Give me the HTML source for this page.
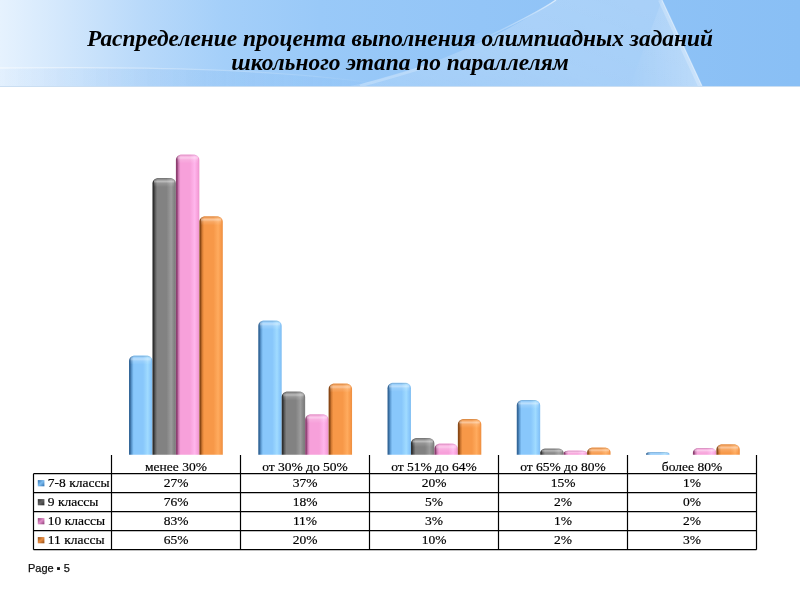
<!DOCTYPE html>
<html><head><meta charset="utf-8"><title>Slide</title>
<style>
html,body{margin:0;padding:0;background:#fff;}
body{width:800px;height:600px;position:relative;overflow:hidden;}
#hdr{position:absolute;left:0;top:0;width:800px;height:86px;overflow:hidden;
background:linear-gradient(90deg,#e6f2fe 0%,#d2e7fc 8%,#b8d9fa 18%,#a4cff9 28%,#99c9f8 40%,#93c5f7 60%,#8ec2f6 80%,#89bff5 100%);}
#title{position:absolute;left:0;width:800px;top:0;text-align:center;font:italic 700 23.4px/26px "Liberation Serif",serif;color:#000;}
#title div{position:absolute;left:0;width:800px;text-align:center;white-space:nowrap;}
#footer{position:absolute;left:27.8px;top:562px;font:11px "Liberation Sans",sans-serif;color:#111;-webkit-text-stroke:0.25px #111;white-space:nowrap;}
svg text{font-family:"Liberation Serif",serif;font-size:13.5px;fill:#000;stroke:#000;stroke-width:0.2px;}
svg,#title,#footer{will-change:transform;}
</style></head><body>
<div id="hdr">
<svg width="800" height="86" style="position:absolute;left:0;top:0">
<defs>
<linearGradient id="fan" x1="0" y1="1" x2="1" y2="0.3"><stop offset="0" stop-color="#fff" stop-opacity=".12"/><stop offset=".5" stop-color="#fff" stop-opacity=".22"/><stop offset="1" stop-color="#fff" stop-opacity=".24"/></linearGradient>
<linearGradient id="sw1" x1="0" y1="0" x2="1" y2="0"><stop offset="0" stop-color="#fff" stop-opacity=".5"/><stop offset=".5" stop-color="#fff" stop-opacity=".25"/><stop offset="1" stop-color="#fff" stop-opacity="0"/></linearGradient>
<linearGradient id="cv" x1="0" y1="1" x2="1" y2="0"><stop offset="0" stop-color="#fff" stop-opacity="0"/><stop offset="1" stop-color="#fff" stop-opacity=".6"/></linearGradient>
<linearGradient id="dg" x1="0" y1="0" x2="1" y2="0"><stop offset="0" stop-color="#fff" stop-opacity="0"/><stop offset="1" stop-color="#fff" stop-opacity=".25"/></linearGradient>
<linearGradient id="lowb" x1="0" y1="0" x2="1" y2="0"><stop offset="0" stop-color="#5a9de8" stop-opacity=".02"/><stop offset=".5" stop-color="#5a9de8" stop-opacity=".08"/><stop offset="1" stop-color="#5a9de8" stop-opacity="0"/></linearGradient>
</defs>
<path d="M0,68.5 C150,67 280,69 395,86 L0,86 Z" fill="url(#lowb)"/>
<path d="M350,86 C420,72 500,38 556,0 L662,0 L702,86 Z" fill="url(#fan)"/>
<path d="M630,86 L662,0 L702,86 Z" fill="url(#dg)"/>
<path d="M462,49 C490,35 530,18 556,0" stroke="url(#cv)" stroke-width="1.4" fill="none"/>
<path d="M360,86 C380,80 410,72 440,62" stroke="#fff" stroke-opacity=".22" stroke-width="3" fill="none"/>
<path d="M660,0 L700,86" stroke="#fff" stroke-opacity=".22" stroke-width="4"/><path d="M662,0 L702,86" stroke="#fff" stroke-opacity=".4" stroke-width="1.2"/>
<path d="M0,68 C150,66.5 280,68.5 395,86" stroke="url(#sw1)" stroke-width="1.3" fill="none"/>
</svg>
<div id="title"><div style="top:25.3px">Распределение процента выполнения олимпиадных заданий</div><div style="top:48.7px">школьного этапа по параллелям</div></div>
</div>
<div style="position:absolute;left:0;top:86px;width:800px;height:1px;background:rgba(150,190,230,.5)"></div>
<svg width="800" height="600" style="position:absolute;left:0;top:0">
<defs>
<linearGradient id="hb" x1="0" y1="0" x2="1" y2="0"><stop offset="0" stop-color="#35689a"/><stop offset=".05" stop-color="#35689a"/><stop offset=".12" stop-color="#5f9dd4"/><stop offset=".2" stop-color="#88c7fb"/><stop offset=".6" stop-color="#88c7fb"/><stop offset=".8" stop-color="#a0dbff"/><stop offset=".93" stop-color="#88c7fb"/><stop offset="1" stop-color="#80bdf0"/></linearGradient>
<linearGradient id="hg" x1="0" y1="0" x2="1" y2="0"><stop offset="0" stop-color="#303030"/><stop offset=".05" stop-color="#303030"/><stop offset=".12" stop-color="#5e5e5e"/><stop offset=".2" stop-color="#828282"/><stop offset=".6" stop-color="#828282"/><stop offset=".8" stop-color="#9c9c9c"/><stop offset=".93" stop-color="#828282"/><stop offset="1" stop-color="#7a7a7a"/></linearGradient>
<linearGradient id="hp" x1="0" y1="0" x2="1" y2="0"><stop offset="0" stop-color="#8c3e70"/><stop offset=".05" stop-color="#8c3e70"/><stop offset=".12" stop-color="#d27cb6"/><stop offset=".2" stop-color="#f7a0da"/><stop offset=".6" stop-color="#f7a0da"/><stop offset=".8" stop-color="#ffb6ec"/><stop offset=".93" stop-color="#f7a0da"/><stop offset="1" stop-color="#eb94cc"/></linearGradient>
<linearGradient id="ho" x1="0" y1="0" x2="1" y2="0"><stop offset="0" stop-color="#8a4815"/><stop offset=".05" stop-color="#8a4815"/><stop offset=".12" stop-color="#d27a32"/><stop offset=".2" stop-color="#f79848"/><stop offset=".6" stop-color="#f79848"/><stop offset=".8" stop-color="#ffab5e"/><stop offset=".93" stop-color="#f79848"/><stop offset="1" stop-color="#ec8e40"/></linearGradient>
<linearGradient id="tv" x1="0" y1="0" x2="0" y2="1"><stop offset="0" stop-color="#fff" stop-opacity=".0"/><stop offset=".18" stop-color="#fff" stop-opacity=".15"/><stop offset=".38" stop-color="#fff" stop-opacity=".45"/><stop offset=".6" stop-color="#fff" stop-opacity=".15"/><stop offset="1" stop-color="#fff" stop-opacity="0"/></linearGradient>
<linearGradient id="lb" x1="0" y1="0" x2="1" y2="1"><stop offset="0" stop-color="#2f6fae"/><stop offset=".5" stop-color="#7cbcf0"/><stop offset="1" stop-color="#2f6fae"/></linearGradient>
<linearGradient id="lg" x1="0" y1="0" x2="1" y2="1"><stop offset="0" stop-color="#2a2a2a"/><stop offset=".5" stop-color="#606060"/><stop offset="1" stop-color="#2a2a2a"/></linearGradient>
<linearGradient id="lp" x1="0" y1="0" x2="1" y2="1"><stop offset="0" stop-color="#8a3c74"/><stop offset=".5" stop-color="#e08cc8"/><stop offset="1" stop-color="#8a3c74"/></linearGradient>
<linearGradient id="lo" x1="0" y1="0" x2="1" y2="1"><stop offset="0" stop-color="#8c4a14"/><stop offset=".5" stop-color="#e88c40"/><stop offset="1" stop-color="#8c4a14"/></linearGradient>
</defs>
<g><clipPath id="c00"><path d="M129.00,454.70 L129.00,361.10 C129.00,358.06 131.69,355.60 135.00,355.60 L146.45,355.60 C149.76,355.60 152.45,358.06 152.45,361.10 L152.45,454.70 Z"/></clipPath>
<path d="M129.00,454.70 L129.00,361.10 C129.00,358.06 131.69,355.60 135.00,355.60 L146.45,355.60 C149.76,355.60 152.45,358.06 152.45,361.10 L152.45,454.70 Z" fill="url(#hb)"/>
<rect x="130.50" y="355.60" width="20.45" height="9.00" fill="url(#tv)" clip-path="url(#c00)"/>
<rect x="129.00" y="355.60" width="23.45" height="1.2" fill="#000" fill-opacity=".10" clip-path="url(#c00)"/>
<clipPath id="c01"><path d="M152.45,454.70 L152.45,183.50 C152.45,180.46 155.14,178.00 158.45,178.00 L169.90,178.00 C173.21,178.00 175.90,180.46 175.90,183.50 L175.90,454.70 Z"/></clipPath>
<path d="M152.45,454.70 L152.45,183.50 C152.45,180.46 155.14,178.00 158.45,178.00 L169.90,178.00 C173.21,178.00 175.90,180.46 175.90,183.50 L175.90,454.70 Z" fill="url(#hg)"/>
<rect x="153.95" y="178.00" width="20.45" height="9.00" fill="url(#tv)" clip-path="url(#c01)"/>
<rect x="152.45" y="178.00" width="23.45" height="1.2" fill="#000" fill-opacity=".10" clip-path="url(#c01)"/>
<clipPath id="c02"><path d="M175.90,454.70 L175.90,159.90 C175.90,156.86 178.59,154.40 181.90,154.40 L193.35,154.40 C196.66,154.40 199.35,156.86 199.35,159.90 L199.35,454.70 Z"/></clipPath>
<path d="M175.90,454.70 L175.90,159.90 C175.90,156.86 178.59,154.40 181.90,154.40 L193.35,154.40 C196.66,154.40 199.35,156.86 199.35,159.90 L199.35,454.70 Z" fill="url(#hp)"/>
<rect x="177.40" y="154.40" width="20.45" height="9.00" fill="url(#tv)" clip-path="url(#c02)"/>
<rect x="175.90" y="154.40" width="23.45" height="1.2" fill="#000" fill-opacity=".10" clip-path="url(#c02)"/>
<clipPath id="c03"><path d="M199.35,454.70 L199.35,221.80 C199.35,218.76 202.04,216.30 205.35,216.30 L216.80,216.30 C220.11,216.30 222.80,218.76 222.80,221.80 L222.80,454.70 Z"/></clipPath>
<path d="M199.35,454.70 L199.35,221.80 C199.35,218.76 202.04,216.30 205.35,216.30 L216.80,216.30 C220.11,216.30 222.80,218.76 222.80,221.80 L222.80,454.70 Z" fill="url(#ho)"/>
<rect x="200.85" y="216.30" width="20.45" height="9.00" fill="url(#tv)" clip-path="url(#c03)"/>
<rect x="199.35" y="216.30" width="23.45" height="1.2" fill="#000" fill-opacity=".10" clip-path="url(#c03)"/>
<clipPath id="c10"><path d="M258.25,454.70 L258.25,326.00 C258.25,322.96 260.94,320.50 264.25,320.50 L275.70,320.50 C279.01,320.50 281.70,322.96 281.70,326.00 L281.70,454.70 Z"/></clipPath>
<path d="M258.25,454.70 L258.25,326.00 C258.25,322.96 260.94,320.50 264.25,320.50 L275.70,320.50 C279.01,320.50 281.70,322.96 281.70,326.00 L281.70,454.70 Z" fill="url(#hb)"/>
<rect x="259.75" y="320.50" width="20.45" height="9.00" fill="url(#tv)" clip-path="url(#c10)"/>
<rect x="258.25" y="320.50" width="23.45" height="1.2" fill="#000" fill-opacity=".10" clip-path="url(#c10)"/>
<clipPath id="c11"><path d="M281.70,454.70 L281.70,397.00 C281.70,393.96 284.39,391.50 287.70,391.50 L299.15,391.50 C302.46,391.50 305.15,393.96 305.15,397.00 L305.15,454.70 Z"/></clipPath>
<path d="M281.70,454.70 L281.70,397.00 C281.70,393.96 284.39,391.50 287.70,391.50 L299.15,391.50 C302.46,391.50 305.15,393.96 305.15,397.00 L305.15,454.70 Z" fill="url(#hg)"/>
<rect x="283.20" y="391.50" width="20.45" height="9.00" fill="url(#tv)" clip-path="url(#c11)"/>
<rect x="281.70" y="391.50" width="23.45" height="1.2" fill="#000" fill-opacity=".10" clip-path="url(#c11)"/>
<clipPath id="c12"><path d="M305.15,454.70 L305.15,419.75 C305.15,416.71 307.84,414.25 311.15,414.25 L322.60,414.25 C325.91,414.25 328.60,416.71 328.60,419.75 L328.60,454.70 Z"/></clipPath>
<path d="M305.15,454.70 L305.15,419.75 C305.15,416.71 307.84,414.25 311.15,414.25 L322.60,414.25 C325.91,414.25 328.60,416.71 328.60,419.75 L328.60,454.70 Z" fill="url(#hp)"/>
<rect x="306.65" y="414.25" width="20.45" height="9.00" fill="url(#tv)" clip-path="url(#c12)"/>
<rect x="305.15" y="414.25" width="23.45" height="1.2" fill="#000" fill-opacity=".10" clip-path="url(#c12)"/>
<clipPath id="c13"><path d="M328.60,454.70 L328.60,389.00 C328.60,385.96 331.29,383.50 334.60,383.50 L346.05,383.50 C349.36,383.50 352.05,385.96 352.05,389.00 L352.05,454.70 Z"/></clipPath>
<path d="M328.60,454.70 L328.60,389.00 C328.60,385.96 331.29,383.50 334.60,383.50 L346.05,383.50 C349.36,383.50 352.05,385.96 352.05,389.00 L352.05,454.70 Z" fill="url(#ho)"/>
<rect x="330.10" y="383.50" width="20.45" height="9.00" fill="url(#tv)" clip-path="url(#c13)"/>
<rect x="328.60" y="383.50" width="23.45" height="1.2" fill="#000" fill-opacity=".10" clip-path="url(#c13)"/>
<clipPath id="c20"><path d="M387.50,454.70 L387.50,388.25 C387.50,385.21 390.19,382.75 393.50,382.75 L404.95,382.75 C408.26,382.75 410.95,385.21 410.95,388.25 L410.95,454.70 Z"/></clipPath>
<path d="M387.50,454.70 L387.50,388.25 C387.50,385.21 390.19,382.75 393.50,382.75 L404.95,382.75 C408.26,382.75 410.95,385.21 410.95,388.25 L410.95,454.70 Z" fill="url(#hb)"/>
<rect x="389.00" y="382.75" width="20.45" height="9.00" fill="url(#tv)" clip-path="url(#c20)"/>
<rect x="387.50" y="382.75" width="23.45" height="1.2" fill="#000" fill-opacity=".10" clip-path="url(#c20)"/>
<clipPath id="c21"><path d="M410.95,454.70 L410.95,443.50 C410.95,440.46 413.64,438.00 416.95,438.00 L428.40,438.00 C431.71,438.00 434.40,440.46 434.40,443.50 L434.40,454.70 Z"/></clipPath>
<path d="M410.95,454.70 L410.95,443.50 C410.95,440.46 413.64,438.00 416.95,438.00 L428.40,438.00 C431.71,438.00 434.40,440.46 434.40,443.50 L434.40,454.70 Z" fill="url(#hg)"/>
<rect x="412.45" y="438.00" width="20.45" height="9.00" fill="url(#tv)" clip-path="url(#c21)"/>
<rect x="410.95" y="438.00" width="23.45" height="1.2" fill="#000" fill-opacity=".10" clip-path="url(#c21)"/>
<clipPath id="c22"><path d="M434.40,454.70 L434.40,449.00 C434.40,445.96 437.09,443.50 440.40,443.50 L451.85,443.50 C455.16,443.50 457.85,445.96 457.85,449.00 L457.85,454.70 Z"/></clipPath>
<path d="M434.40,454.70 L434.40,449.00 C434.40,445.96 437.09,443.50 440.40,443.50 L451.85,443.50 C455.16,443.50 457.85,445.96 457.85,449.00 L457.85,454.70 Z" fill="url(#hp)"/>
<rect x="435.90" y="443.50" width="20.45" height="9.00" fill="url(#tv)" clip-path="url(#c22)"/>
<rect x="434.40" y="443.50" width="23.45" height="1.2" fill="#000" fill-opacity=".10" clip-path="url(#c22)"/>
<clipPath id="c23"><path d="M457.85,454.70 L457.85,424.50 C457.85,421.46 460.54,419.00 463.85,419.00 L475.30,419.00 C478.61,419.00 481.30,421.46 481.30,424.50 L481.30,454.70 Z"/></clipPath>
<path d="M457.85,454.70 L457.85,424.50 C457.85,421.46 460.54,419.00 463.85,419.00 L475.30,419.00 C478.61,419.00 481.30,421.46 481.30,424.50 L481.30,454.70 Z" fill="url(#ho)"/>
<rect x="459.35" y="419.00" width="20.45" height="9.00" fill="url(#tv)" clip-path="url(#c23)"/>
<rect x="457.85" y="419.00" width="23.45" height="1.2" fill="#000" fill-opacity=".10" clip-path="url(#c23)"/>
<clipPath id="c30"><path d="M516.75,454.70 L516.75,405.40 C516.75,402.36 519.44,399.90 522.75,399.90 L534.20,399.90 C537.51,399.90 540.20,402.36 540.20,405.40 L540.20,454.70 Z"/></clipPath>
<path d="M516.75,454.70 L516.75,405.40 C516.75,402.36 519.44,399.90 522.75,399.90 L534.20,399.90 C537.51,399.90 540.20,402.36 540.20,405.40 L540.20,454.70 Z" fill="url(#hb)"/>
<rect x="518.25" y="399.90" width="20.45" height="9.00" fill="url(#tv)" clip-path="url(#c30)"/>
<rect x="516.75" y="399.90" width="23.45" height="1.2" fill="#000" fill-opacity=".10" clip-path="url(#c30)"/>
<clipPath id="c31"><path d="M540.20,454.70 L540.20,452.81 C540.20,450.37 542.89,448.40 546.20,448.40 L557.65,448.40 C560.96,448.40 563.65,450.37 563.65,452.81 L563.65,454.70 Z"/></clipPath>
<path d="M540.20,454.70 L540.20,452.81 C540.20,450.37 542.89,448.40 546.20,448.40 L557.65,448.40 C560.96,448.40 563.65,450.37 563.65,452.81 L563.65,454.70 Z" fill="url(#hg)"/>
<rect x="541.70" y="448.40" width="20.45" height="6.30" fill="url(#tv)" clip-path="url(#c31)"/>
<rect x="540.20" y="448.40" width="23.45" height="1.2" fill="#000" fill-opacity=".10" clip-path="url(#c31)"/>
<clipPath id="c32"><path d="M563.65,454.70 L563.65,453.44 C563.65,451.82 566.34,450.50 569.65,450.50 L581.10,450.50 C584.41,450.50 587.10,451.82 587.10,453.44 L587.10,454.70 Z"/></clipPath>
<path d="M563.65,454.70 L563.65,453.44 C563.65,451.82 566.34,450.50 569.65,450.50 L581.10,450.50 C584.41,450.50 587.10,451.82 587.10,453.44 L587.10,454.70 Z" fill="url(#hp)"/>
<rect x="565.15" y="450.50" width="20.45" height="4.20" fill="url(#tv)" clip-path="url(#c32)"/>
<rect x="563.65" y="450.50" width="23.45" height="1.2" fill="#000" fill-opacity=".10" clip-path="url(#c32)"/>
<clipPath id="c33"><path d="M587.10,454.70 L587.10,452.54 C587.10,449.76 589.79,447.50 593.10,447.50 L604.55,447.50 C607.86,447.50 610.55,449.76 610.55,452.54 L610.55,454.70 Z"/></clipPath>
<path d="M587.10,454.70 L587.10,452.54 C587.10,449.76 589.79,447.50 593.10,447.50 L604.55,447.50 C607.86,447.50 610.55,449.76 610.55,452.54 L610.55,454.70 Z" fill="url(#ho)"/>
<rect x="588.60" y="447.50" width="20.45" height="7.20" fill="url(#tv)" clip-path="url(#c33)"/>
<rect x="587.10" y="447.50" width="23.45" height="1.2" fill="#000" fill-opacity=".10" clip-path="url(#c33)"/>
<clipPath id="c40"><path d="M646.00,454.70 L646.00,453.89 C646.00,452.85 648.69,452.00 652.00,452.00 L663.45,452.00 C666.76,452.00 669.45,452.85 669.45,453.89 L669.45,454.70 Z"/></clipPath>
<path d="M646.00,454.70 L646.00,453.89 C646.00,452.85 648.69,452.00 652.00,452.00 L663.45,452.00 C666.76,452.00 669.45,452.85 669.45,453.89 L669.45,454.70 Z" fill="url(#hb)"/>
<rect x="647.50" y="452.00" width="20.45" height="2.70" fill="url(#tv)" clip-path="url(#c40)"/>
<rect x="646.00" y="452.00" width="23.45" height="1.2" fill="#000" fill-opacity=".10" clip-path="url(#c40)"/>
<clipPath id="c42"><path d="M692.90,454.70 L692.90,452.66 C692.90,450.03 695.59,447.90 698.90,447.90 L710.35,447.90 C713.66,447.90 716.35,450.03 716.35,452.66 L716.35,454.70 Z"/></clipPath>
<path d="M692.90,454.70 L692.90,452.66 C692.90,450.03 695.59,447.90 698.90,447.90 L710.35,447.90 C713.66,447.90 716.35,450.03 716.35,452.66 L716.35,454.70 Z" fill="url(#hp)"/>
<rect x="694.40" y="447.90" width="20.45" height="6.80" fill="url(#tv)" clip-path="url(#c42)"/>
<rect x="692.90" y="447.90" width="23.45" height="1.2" fill="#000" fill-opacity=".10" clip-path="url(#c42)"/>
<clipPath id="c43"><path d="M716.35,454.70 L716.35,449.70 C716.35,446.66 719.04,444.20 722.35,444.20 L733.80,444.20 C737.11,444.20 739.80,446.66 739.80,449.70 L739.80,454.70 Z"/></clipPath>
<path d="M716.35,454.70 L716.35,449.70 C716.35,446.66 719.04,444.20 722.35,444.20 L733.80,444.20 C737.11,444.20 739.80,446.66 739.80,449.70 L739.80,454.70 Z" fill="url(#ho)"/>
<rect x="717.85" y="444.20" width="20.45" height="9.00" fill="url(#tv)" clip-path="url(#c43)"/>
<rect x="716.35" y="444.20" width="23.45" height="1.2" fill="#000" fill-opacity=".10" clip-path="url(#c43)"/></g>
<g stroke="#000" stroke-width="1.2" fill="none"><line x1="111.5" y1="455" x2="111.5" y2="549.7"/>
<line x1="240.5" y1="455" x2="240.5" y2="549.7"/>
<line x1="369.5" y1="455" x2="369.5" y2="549.7"/>
<line x1="498.5" y1="455" x2="498.5" y2="549.7"/>
<line x1="627.5" y1="455" x2="627.5" y2="549.7"/>
<line x1="756.5" y1="455" x2="756.5" y2="549.7"/>
<line x1="33.5" y1="473.7" x2="33.5" y2="549.7"/>
<line x1="33.5" y1="473.7" x2="756.5" y2="473.7"/>
<line x1="33.5" y1="492.7" x2="756.5" y2="492.7"/>
<line x1="33.5" y1="511.7" x2="756.5" y2="511.7"/>
<line x1="33.5" y1="530.7" x2="756.5" y2="530.7"/>
<line x1="33.5" y1="549.7" x2="756.5" y2="549.7"/></g>
<g><text x="176.0" y="471.0" text-anchor="middle">менее 30%</text>
<text x="305.0" y="471.0" text-anchor="middle">от 30% до 50%</text>
<text x="434.0" y="471.0" text-anchor="middle">от 51% до 64%</text>
<text x="563.0" y="471.0" text-anchor="middle">от 65% до 80%</text>
<text x="692.0" y="471.0" text-anchor="middle">более 80%</text>
<rect x="37.8" y="480.1" width="6.6" height="6.2" fill="url(#lb)"/>
<text x="47.8" y="487.4">7-8 классы</text>
<text x="176.0" y="487.4" text-anchor="middle">27%</text>
<text x="305.0" y="487.4" text-anchor="middle">37%</text>
<text x="434.0" y="487.4" text-anchor="middle">20%</text>
<text x="563.0" y="487.4" text-anchor="middle">15%</text>
<text x="692.0" y="487.4" text-anchor="middle">1%</text>
<rect x="37.8" y="499.1" width="6.6" height="6.2" fill="url(#lg)"/>
<text x="47.8" y="506.4">9 классы</text>
<text x="176.0" y="506.4" text-anchor="middle">76%</text>
<text x="305.0" y="506.4" text-anchor="middle">18%</text>
<text x="434.0" y="506.4" text-anchor="middle">5%</text>
<text x="563.0" y="506.4" text-anchor="middle">2%</text>
<text x="692.0" y="506.4" text-anchor="middle">0%</text>
<rect x="37.8" y="518.1" width="6.6" height="6.2" fill="url(#lp)"/>
<text x="47.8" y="525.4">10 классы</text>
<text x="176.0" y="525.4" text-anchor="middle">83%</text>
<text x="305.0" y="525.4" text-anchor="middle">11%</text>
<text x="434.0" y="525.4" text-anchor="middle">3%</text>
<text x="563.0" y="525.4" text-anchor="middle">1%</text>
<text x="692.0" y="525.4" text-anchor="middle">2%</text>
<rect x="37.8" y="537.1" width="6.6" height="6.2" fill="url(#lo)"/>
<text x="47.8" y="544.4000000000001">11 классы</text>
<text x="176.0" y="544.4000000000001" text-anchor="middle">65%</text>
<text x="305.0" y="544.4000000000001" text-anchor="middle">20%</text>
<text x="434.0" y="544.4000000000001" text-anchor="middle">10%</text>
<text x="563.0" y="544.4000000000001" text-anchor="middle">2%</text>
<text x="692.0" y="544.4000000000001" text-anchor="middle">3%</text></g>
</svg>
<div id="footer">Page ▪ 5</div>
</body></html>
